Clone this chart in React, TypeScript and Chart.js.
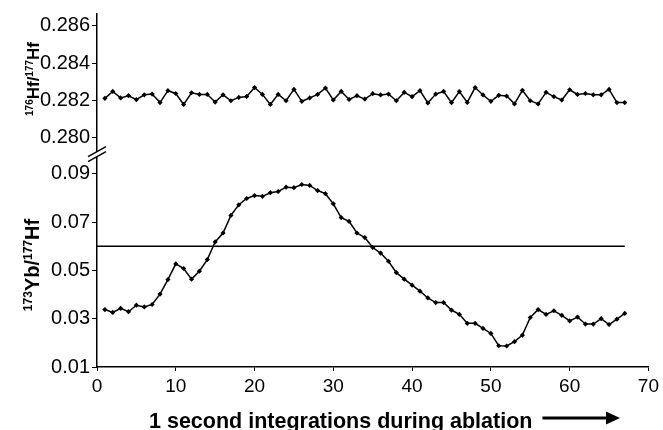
import React, { useEffect, useRef } from 'react';
import { Chart, registerables } from 'chart.js';

Chart.register(...registerables);

// 176Hf/177Hf ratio for each 1 s integration (1..67)
const hfRatio = [
  0.28211, 0.28248, 0.28213, 0.28225, 0.28204, 0.28230, 0.28234, 0.28188, 0.28252, 0.28237,
  0.28178, 0.28241, 0.28232, 0.28232, 0.28191, 0.28230, 0.28198, 0.28216, 0.28221, 0.28269,
  0.28232, 0.28178, 0.28232, 0.28198, 0.28259, 0.28195, 0.28213, 0.28232, 0.28266, 0.28202,
  0.28248, 0.28205, 0.28225, 0.28207, 0.28236, 0.28229, 0.28234, 0.28198, 0.28243, 0.28220,
  0.28252, 0.28186, 0.28234, 0.28248, 0.28188, 0.28247, 0.28189, 0.28269, 0.28229, 0.28195,
  0.28227, 0.28223, 0.28181, 0.28254, 0.28198, 0.28181, 0.28243, 0.28220, 0.28202, 0.28257,
  0.28232, 0.28237, 0.28230, 0.28230, 0.28259, 0.28188, 0.28188,
];

// 173Yb/177Hf ratio for each 1 s integration (1..67)
const ybRatio = [
  0.0338, 0.0326, 0.0343, 0.0329, 0.0356, 0.0349, 0.0359, 0.0402, 0.0462, 0.0527,
  0.0508, 0.0464, 0.0497, 0.0545, 0.0618, 0.0655, 0.0728, 0.0772, 0.0798, 0.0810,
  0.0807, 0.0822, 0.0827, 0.0845, 0.0843, 0.0856, 0.0852, 0.0831, 0.0818, 0.0776,
  0.0719, 0.0703, 0.0655, 0.0636, 0.0595, 0.0572, 0.0538, 0.0491, 0.0464, 0.0439,
  0.0414, 0.0386, 0.0367, 0.0367, 0.0336, 0.0318, 0.0281, 0.0281, 0.0260, 0.0239,
  0.0188, 0.0187, 0.0205, 0.0232, 0.0305, 0.0338, 0.0318, 0.0333, 0.0314, 0.0291,
  0.0307, 0.0278, 0.0278, 0.0300, 0.0276, 0.0298, 0.0322,
];

const seconds = ybRatio.map((_, i) => i + 1);

const ybThreshold = 0.06;
const thresholdStart = 0;
const thresholdEnd = 67;

const xTicks = [0, 10, 20, 30, 40, 50, 60, 70];
const hfTicks = [0.28, 0.282, 0.284, 0.286];
const ybTicks = [0.01, 0.03, 0.05, 0.07, 0.09];

const xTitle = '1 second integrations during ablation';
const hfTitle = [
  { t: '176', sup: true },
  { t: 'Hf/', sup: false },
  { t: '177', sup: true },
  { t: 'Hf', sup: false },
];
const ybTitle = [
  { t: '173', sup: true },
  { t: 'Yb/', sup: false },
  { t: '177', sup: true },
  { t: 'Hf', sup: false },
];

const FONT = "'Liberation Sans', Arial, Helvetica, sans-serif";

type Part = { t: string; sup: boolean };

function drawRotatedRich(
  ctx: CanvasRenderingContext2D,
  parts: Part[],
  baselineX: number,
  centerY: number,
  big: number,
  small: number,
  raise: number
) {
  ctx.save();
  ctx.fillStyle = '#000';
  const widths = parts.map((p) => {
    ctx.font = `bold ${p.sup ? small : big}px ${FONT}`;
    return ctx.measureText(p.t).width;
  });
  const total = widths.reduce((a, b) => a + b, 0);
  ctx.translate(baselineX, centerY);
  ctx.rotate(-Math.PI / 2);
  ctx.textAlign = 'left';
  ctx.textBaseline = 'alphabetic';
  let x = -total / 2;
  parts.forEach((p, i) => {
    ctx.font = `bold ${p.sup ? small : big}px ${FONT}`;
    ctx.fillText(p.t, x, p.sup ? -raise : 0);
    x += widths[i];
  });
  ctx.restore();
}

const decorPlugin = {
  id: 'decor',
  afterDraw(chart: any) {
    const ctx: CanvasRenderingContext2D = chart.ctx;
    const yt = chart.scales.yt;
    const axisX = yt.right;
    const breakY = yt.bottom;

    // axis break marks
    ctx.save();
    ctx.fillStyle = '#fff';
    ctx.beginPath();
    ctx.moveTo(axisX - 9, breakY + 3);
    ctx.lineTo(axisX + 9, breakY - 7);
    ctx.lineTo(axisX + 9, breakY - 2);
    ctx.lineTo(axisX - 9, breakY + 8);
    ctx.closePath();
    ctx.fill();
    ctx.strokeStyle = '#000';
    ctx.lineWidth = 1.5;
    ctx.beginPath();
    ctx.moveTo(axisX - 9, breakY + 3);
    ctx.lineTo(axisX + 9, breakY - 7);
    ctx.moveTo(axisX - 9, breakY + 8);
    ctx.lineTo(axisX + 9, breakY - 2);
    ctx.stroke();
    ctx.restore();

    // y titles
    drawRotatedRich(ctx, hfTitle, 39, 79, 17, 10, 6.5);
    drawRotatedRich(ctx, ybTitle, 39, 265, 20, 12, 7.5);

    // x title with arrow
    ctx.save();
    ctx.fillStyle = '#000';
    ctx.font = `bold 21.5px ${FONT}`;
    ctx.textAlign = 'left';
    ctx.textBaseline = 'alphabetic';
    const tx = 149;
    const ty = 428;
    ctx.fillText(xTitle, tx, ty);
    const w = ctx.measureText(xTitle).width;
    const a0 = tx + w + 10;
    const tip = 620;
    const ay = 418;
    ctx.strokeStyle = '#000';
    ctx.lineWidth = 3;
    ctx.beginPath();
    ctx.moveTo(a0, ay);
    ctx.lineTo(tip - 10, ay);
    ctx.stroke();
    ctx.beginPath();
    ctx.moveTo(tip, ay);
    ctx.lineTo(tip - 14, ay - 6.5);
    ctx.lineTo(tip - 14, ay + 6.5);
    ctx.closePath();
    ctx.fill();
    ctx.restore();
  },
};

export default function App() {
  const ref = useRef<HTMLCanvasElement | null>(null);

  useEffect(() => {
    if (!ref.current) return;
    const lineStyle = {
      borderColor: '#000',
      backgroundColor: '#000',
      borderWidth: 1.5,
      pointStyle: 'rectRot' as const,
      pointRadius: 2.6,
      pointBackgroundColor: '#000',
      pointBorderColor: '#000',
      pointBorderWidth: 0,
      tension: 0,
    };
    const chart = new Chart(ref.current, {
      type: 'line',
      data: {
        datasets: [
          {
            ...lineStyle,
            label: '176Hf/177Hf',
            yAxisID: 'yt',
            data: seconds.map((x, i) => ({ x, y: hfRatio[i] })),
          },
          {
            ...lineStyle,
            label: '173Yb/177Hf',
            yAxisID: 'yb',
            data: seconds.map((x, i) => ({ x, y: ybRatio[i] })),
          },
          {
            label: 'threshold',
            yAxisID: 'yb',
            borderColor: '#000',
            borderWidth: 1.5,
            pointRadius: 0,
            data: [
              { x: thresholdStart, y: ybThreshold },
              { x: thresholdEnd, y: ybThreshold },
            ],
          },
        ],
      },
      options: {
        animation: false,
        responsive: false,
        devicePixelRatio: 1,
        layout: { padding: { left: 0, top: 13, right: 10, bottom: 0 } },
        plugins: {
          legend: { display: false },
          tooltip: { enabled: false },
        },
        scales: {
          x: {
            type: 'linear',
            min: 0,
            max: 70,
            afterBuildTicks: (s: any) => {
              s.ticks = xTicks.map((v) => ({ value: v }));
            },
            afterFit: (s: any) => {
              s.height = 63;
            },
            ticks: {
              color: '#000',
              font: { size: 19, family: FONT },
              padding: 4,
              maxRotation: 0,
              callback: (v: any) => String(v),
            },
            grid: { drawOnChartArea: false, drawTicks: true, tickLength: 4, color: '#000', lineWidth: 1 },
            border: { display: true, color: '#000', width: 1.5 },
          },
          yb: {
            type: 'linear',
            position: 'left',
            stack: 'v',
            stackWeight: 214,
            min: 0.01,
            max: 0.0984,
            afterBuildTicks: (s: any) => {
              s.ticks = ybTicks.map((v) => ({ value: v }));
            },
            afterFit: (s: any) => {
              s.width = 97;
            },
            ticks: {
              color: '#000',
              font: { size: 20, family: FONT },
              padding: 2,
              callback: (v: any) => Number(v).toFixed(2),
            },
            grid: { drawOnChartArea: false, drawTicks: true, tickLength: 5, color: '#000', lineWidth: 1 },
            border: { display: true, color: '#000', width: 1.5 },
          },
          yt: {
            type: 'linear',
            position: 'left',
            stack: 'v',
            stackWeight: 140,
            min: 0.27914,
            max: 0.28664,
            afterBuildTicks: (s: any) => {
              s.ticks = hfTicks.map((v) => ({ value: v }));
            },
            afterFit: (s: any) => {
              s.width = 97;
            },
            ticks: {
              color: '#000',
              font: { size: 20, family: FONT },
              padding: 2,
              callback: (v: any) => Number(v).toFixed(3),
            },
            grid: { drawOnChartArea: false, drawTicks: true, tickLength: 5, color: '#000', lineWidth: 1 },
            border: { display: true, color: '#000', width: 1.5 },
          },
        },
      } as any,
      plugins: [decorPlugin],
    });
    return () => chart.destroy();
  }, []);

  return (
    <div style={{ position: 'fixed', left: 0, top: 0, width: 663, height: 430, background: '#fff' }}>
      <canvas ref={ref} width={663} height={430} style={{ display: 'block' }} />
    </div>
  );
}
